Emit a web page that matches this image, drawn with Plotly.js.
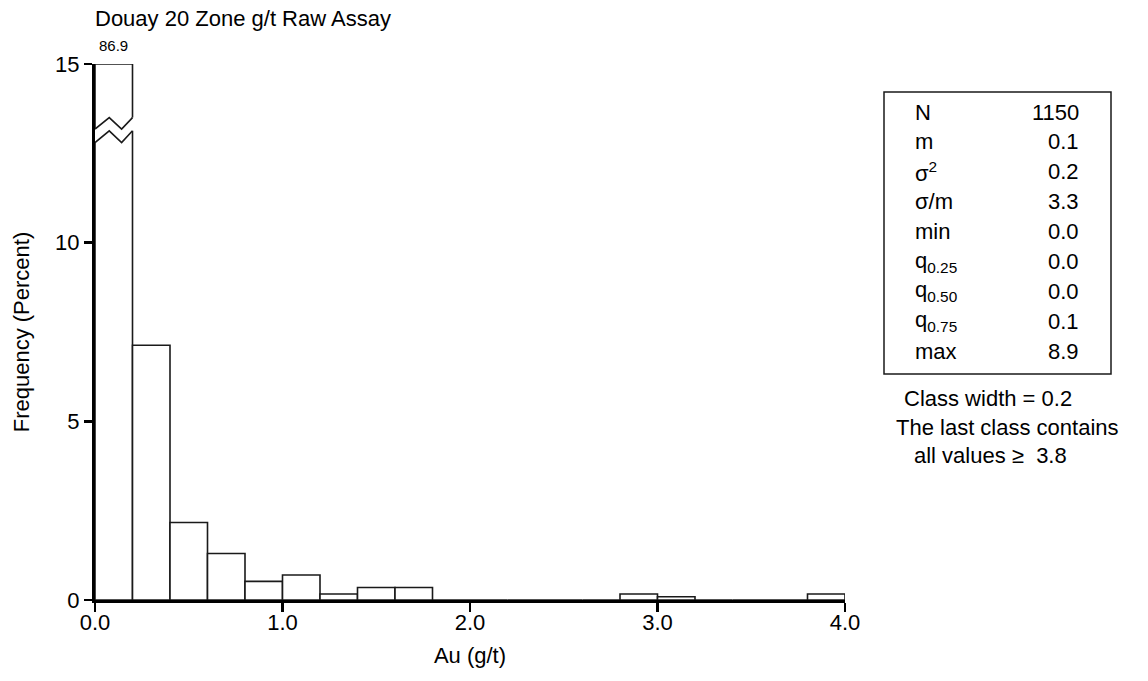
<!DOCTYPE html>
<html><head><meta charset="utf-8">
<script src="https://cdn.plot.ly/plotly-3.0.1.min.js"></script>
<style>html,body{margin:0;padding:0;background:#fff}#chart{width:1148px;height:681px}</style>
</head><body><div id="chart"></div>
<script>
// ---- data ----
const classLower = [0.0,0.2,0.4,0.6,0.8,1.0,1.2,1.4,1.6,1.8,2.0,2.2,2.4,2.6,2.8,3.0,3.2,3.4,3.6,3.8];
const freqPercent = [86.9,7.13,2.17,1.30,0.52,0.70,0.17,0.35,0.35,0,0,0,0,0,0.17,0.09,0,0,0,0.17];
const classWidth = 0.2;
const yCap = 15;
const xTickVals = [0,1,2,3,4];
const xTickText = ['0.0','1.0','2.0','3.0','4.0'];
const yTickVals = [0,5,10,15];
const yTickText = ['0','5','10','15'];
const statLabels = ['N','m','σ<sup>2</sup>','σ/m','min','q<sub>0.25</sub>','q<sub>0.50</sub>','q<sub>0.75</sub>','max'];
const statValues = ['1150','0.1','0.2','3.3','0.0','0.0','0.0','0.1','8.9'];
const noteLines = ['Class width = 0.2','The last class contains','all values ≥  3.8'];
const titleText = 'Douay 20 Zone g/t Raw Assay';
const xTitle = 'Au (g/t)';
const yTitle = 'Frequency (Percent)';

// ---- layout geometry ----
const W = 1148, H = 681;
const M = {l:95, r:303, t:64, b:81};
const PW = W - M.l - M.r, PH = H - M.t - M.b;
const px2x = p => (p - M.l) / PW;
const py2y = p => (H - M.b - p) / PH;
const FONT = 'Liberation Sans, Arial, Helvetica, sans-serif';
const TXT = 22;

const xCenters = classLower.map(v => v + classWidth/2);
const yShown = freqPercent.map(v => Math.min(v, yCap));

const trace = {
  type:'bar', x:xCenters, y:yShown, width:classWidth,
  marker:{color:'#ffffff', line:{color:'#1a1a1a', width:1.6}},
  hoverinfo:'skip', showlegend:false
};

const shapes = [];
const annotations = [];

// axis-break zigzag + true value label for truncated classes
freqPercent.forEach((v,i)=>{
  if (v <= yCap) return;
  const x0 = classLower[i], x1 = x0 + classWidth;
  const a = x0 + classWidth*0.38, b = x0 + classWidth*0.71;
  const up = [13.18, 13.50], lo = [12.80, 13.13];
  const e = 0.012;
  shapes.push({type:'path', xref:'x', yref:'y', layer:'above',
    path:`M ${x0-e},${up[0]} L ${x0},${up[0]} L ${a},${up[1]} L ${b},${up[0]} L ${x1},${up[1]} L ${x1+e},${up[1]} L ${x1+e},${lo[1]} L ${x1},${lo[1]} L ${b},${lo[0]} L ${a},${lo[1]} L ${x0},${lo[0]} L ${x0-e},${lo[0]} Z`,
    fillcolor:'#ffffff', line:{width:0}});
  shapes.push({type:'path', xref:'x', yref:'y', layer:'above',
    path:`M ${x0},${up[0]} L ${a},${up[1]} L ${b},${up[0]} L ${x1},${up[1]}`,
    line:{color:'#1a1a1a', width:1.6}});
  shapes.push({type:'path', xref:'x', yref:'y', layer:'above',
    path:`M ${x0},${lo[0]} L ${a},${lo[1]} L ${b},${lo[0]} L ${x1},${lo[1]}`,
    line:{color:'#1a1a1a', width:1.6}});
  annotations.push({xref:'x', yref:'y', x:x0+classWidth/2, y:yCap, yanchor:'bottom', xanchor:'center',
    yshift:8, text:v.toFixed(1), showarrow:false, font:{family:FONT, size:15, color:'#000'}});
});

// stats box
shapes.push({type:'rect', xref:'paper', yref:'paper',
  x0:px2x(884), x1:px2x(1111), y0:py2y(374), y1:py2y(92),
  line:{color:'#1a1a1a', width:1.5}, fillcolor:'rgba(0,0,0,0)'});

const rowY0 = 112, rowStep = 29.9;
statLabels.forEach((s,i)=>{
  annotations.push({xref:'paper', yref:'paper', x:px2x(913), y:py2y(rowY0+i*rowStep),
    xanchor:'left', yanchor:'middle', text:s, showarrow:false,
    font:{family:FONT, size:TXT, color:'#000'}});
  annotations.push({xref:'paper', yref:'paper', x:px2x(1081), y:py2y(rowY0+i*rowStep),
    xanchor:'right', yanchor:'middle', text:statValues[i], showarrow:false,
    font:{family:FONT, size:TXT, color:'#000'}});
});
const noteX = [902, 894, 912], noteY = [398, 427, 455];
noteLines.forEach((s,i)=>{
  annotations.push({xref:'paper', yref:'paper', x:px2x(noteX[i]), y:py2y(noteY[i]),
    xanchor:'left', yanchor:'middle', text:s, showarrow:false,
    font:{family:FONT, size:TXT, color:'#000'}});
});

const layout = {
  width:W, height:H, margin:M, paper_bgcolor:'#fff', plot_bgcolor:'#fff',
  font:{family:FONT, color:'#000'},
  title:{text:titleText, xref:'paper', x:0, xanchor:'left', yref:'container', y:1-18/H, yanchor:'middle',
    font:{family:FONT, size:22, color:'#000'}},
  bargap:0, showlegend:false,
  xaxis:{range:[0,4], tickvals:xTickVals, ticktext:xTickText, ticks:'outside', ticklen:9, tickwidth:2.5,
    tickcolor:'#000', showline:true, linecolor:'#000', linewidth:3, showgrid:false, zeroline:false,
    ticklabelstandoff:-8,
    tickfont:{family:FONT, size:TXT, color:'#000'},
    title:{text:xTitle, standoff:14, font:{family:FONT, size:TXT, color:'#000'}}, fixedrange:true},
  yaxis:{range:[0,yCap], tickvals:yTickVals, ticktext:yTickText, ticks:'outside', ticklen:8, tickwidth:2.5,
    tickcolor:'#000', showline:true, linecolor:'#000', linewidth:3, showgrid:false, zeroline:false,
    tickfont:{family:FONT, size:TXT, color:'#000'},
    title:{text:yTitle, standoff:20, font:{family:FONT, size:TXT, color:'#000'}}, fixedrange:true},
  shapes:shapes, annotations:annotations
};
Plotly.newPlot('chart', [trace], layout, {displayModeBar:false, staticPlot:true});
</script></body></html>
